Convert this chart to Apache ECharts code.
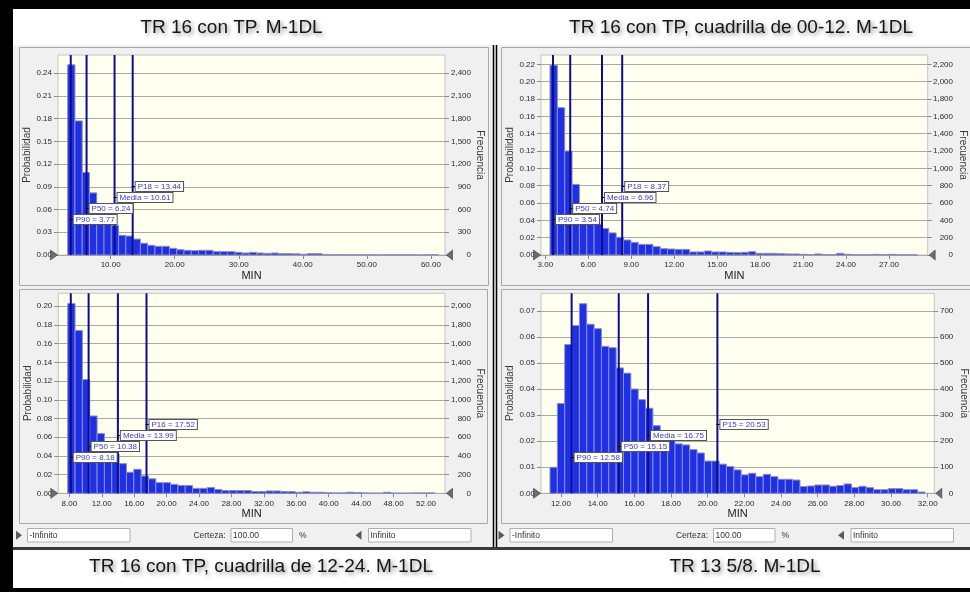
<!DOCTYPE html>
<html><head><meta charset="utf-8">
<script src="https://cdn.jsdelivr.net/npm/echarts@6/dist/echarts.min.js"></script>
<style>html,body{margin:0;padding:0;background:#000;} #c{width:970px;height:592px;}</style>
</head><body><div id="c"></div>
<script>
const FONT = '"Liberation Sans", Arial, sans-serif';
const trials = 10000;

const panelTitles = ['TR 16 con TP. M-1DL', 'TR 16 con TP, cuadrilla de 00-12. M-1DL',
  'TR 16 con TP, cuadrilla de 12-24. M-1DL', 'TR 13 5/8. M-1DL'];

// Panel A: TR 16 con TP. M-1DL
const aBinStart = 3.29, aBinWidth = 1.135;
const aProb = [0.251, 0.177, 0.109, 0.082, 0.060, 0.050, 0.039, 0.026, 0.025, 0.021,
  0.0155, 0.0128, 0.0115, 0.0115, 0.0088, 0.007, 0.0062, 0.0057, 0.0062, 0.0062,
  0.0044, 0.0044, 0.0044, 0.0035, 0.0026, 0.0035, 0.0026, 0.0022, 0.0026, 0.0018,
  0.0018, 0.0015, 0.0010, 0.0018, 0.0018, 0.0004, 0.0002, 0.0004, 0.0002, 0.0002,
  0.0002, 0.0003, 0, 0.0002, 0.0001, 0.0002, 0.0002, 0.0002, 0, 0.0002, 0.0003];
const aMarkerNames = ['P90', 'P50', 'Media', 'P18'];
const aMarkerValues = [3.77, 6.24, 10.61, 13.44];
const aXTicks = [10, 20, 30, 40, 50, 60];
const aProbTicks = [0, 0.03, 0.06, 0.09, 0.12, 0.15, 0.18, 0.21, 0.24];
const aFreqTicks = [0, 300, 600, 900, 1200, 1500, 1800, 2100, 2400];

// Panel B: cuadrilla 00-12
const bBinStart = 3.33, bBinWidth = 0.513;
const bProb = [0.219, 0.170, 0.120, 0.0815, 0.055, 0.044, 0.0356, 0.0306, 0.0255, 0.0204,
  0.0173, 0.0146, 0.0123, 0.0123, 0.0096, 0.0073, 0.0069, 0.0065, 0.0065, 0.0035,
  0.0035, 0.0046, 0.0035, 0.0035, 0.003, 0.0027, 0.0031, 0.0038, 0.0019, 0.0019,
  0.0019, 0.0015, 0.0012, 0.0012, 0.0008, 0.0004, 0.0012, 0.0004, 0.0004, 0.0019,
  0.0008, 0.0002, 0.0002, 0.0002, 0.0008, 0.0002, 0.0008, 0.0002, 0.0001, 0.0002];
const bMarkerNames = ['P90', 'P50', 'Media', 'P18'];
const bMarkerValues = [3.54, 4.74, 6.96, 8.37];
const bXTicks = [3, 6, 9, 12, 15, 18, 21, 24, 27];
const bProbTicks = [0, 0.02, 0.04, 0.06, 0.08, 0.10, 0.12, 0.14, 0.16, 0.18, 0.20, 0.22];
const bFreqTicks = [0, 200, 400, 600, 800, 1000, 1200, 1400, 1600, 1800, 2000, 2200];

// Panel C: cuadrilla 12-24
const cBinStart = 7.80, cBinWidth = 0.906;
const cProb = [0.203, 0.174, 0.1216, 0.0827, 0.064, 0.050, 0.042, 0.0317, 0.0225, 0.0257,
  0.0185, 0.0155, 0.0114, 0.0114, 0.0096, 0.0084, 0.0084, 0.0053, 0.0053, 0.0062,
  0.0041, 0.003, 0.003, 0.003, 0.003, 0.0019, 0.0019, 0.0025, 0.0025, 0.0018,
  0.0018, 0.0011, 0.0016, 0.0011, 0.0011, 0.0007, 0.0004, 0.0004, 0.0011, 0.0008,
  0.0004, 0.0002, 0.0002, 0.0011, 0.0002, 0.0002, 0.0002, 0.0004, 0.0004, 0.0004];
const cMarkerNames = ['P90', 'P50', 'Media', 'P16'];
const cMarkerValues = [8.18, 10.38, 13.99, 17.52];
const cXTicks = [8, 12, 16, 20, 24, 28, 32, 36, 40, 44, 48, 52];
const cProbTicks = [0, 0.02, 0.04, 0.06, 0.08, 0.10, 0.12, 0.14, 0.16, 0.18, 0.20];
const cFreqTicks = [0, 200, 400, 600, 800, 1000, 1200, 1400, 1600, 1800, 2000];

// Panel D: TR 13 5/8
const dBinStart = 11.40, dBinWidth = 0.401;
const dProb = [0.0100, 0.0345, 0.0572, 0.0645, 0.0729, 0.065, 0.0633, 0.0565, 0.056, 0.0482,
  0.0462, 0.0401, 0.036, 0.0327, 0.026, 0.0225, 0.0205, 0.019, 0.0186, 0.0168,
  0.0155, 0.0124, 0.0124, 0.0112, 0.0103, 0.009, 0.0071, 0.0077, 0.0064, 0.0073,
  0.0064, 0.0054, 0.0054, 0.0051, 0.0026, 0.0028, 0.0032, 0.0032, 0.0027, 0.003,
  0.0036, 0.0022, 0.0027, 0.0022, 0.0014, 0.0014, 0.0018, 0.0018, 0.0014, 0.0014, 0.0005];
const dMarkerNames = ['P90', 'P50', 'Media', 'P15'];
const dMarkerValues = [12.58, 15.15, 16.75, 20.53];
const dXTicks = [12, 14, 16, 18, 20, 22, 24, 26, 28, 30, 32];
const dProbTicks = [0, 0.01, 0.02, 0.03, 0.04, 0.05, 0.06, 0.07];
const dFreqTicks = [0, 100, 200, 300, 400, 500, 600, 700];

const panels = [
  {binStart: aBinStart, binWidth: aBinWidth, prob: aProb, mNames: aMarkerNames, mValues: aMarkerValues, xTicks: aXTicks, pTicks: aProbTicks, fTicks: aFreqTicks},
  {binStart: bBinStart, binWidth: bBinWidth, prob: bProb, mNames: bMarkerNames, mValues: bMarkerValues, xTicks: bXTicks, pTicks: bProbTicks, fTicks: bFreqTicks},
  {binStart: cBinStart, binWidth: cBinWidth, prob: cProb, mNames: cMarkerNames, mValues: cMarkerValues, xTicks: cXTicks, pTicks: cProbTicks, fTicks: cFreqTicks},
  {binStart: dBinStart, binWidth: dBinWidth, prob: dProb, mNames: dMarkerNames, mValues: dMarkerValues, xTicks: dXTicks, pTicks: dProbTicks, fTicks: dFreqTicks}
];

// Layout (positions / ranges only)
const layout = [
  {grid: {left: 58, top: 55, width: 387, height: 200}, xMin: 1.78, xMax: 62.2, yMax: 0.264, yInt: 0.03, rMargin: 26, lGap: 24, rGap: 30, title: [231.5, 27.5]},
  {grid: {left: 541, top: 55, width: 386.7, height: 200}, xMin: 2.70, xMax: 29.70, yMax: 0.2308, yInt: 0.02, rMargin: 25.3, lGap: 24, rGap: 30, title: [741, 27.5]},
  {grid: {left: 58.3, top: 293.3, width: 386.7, height: 200}, xMin: 6.64, xMax: 54.34, yMax: 0.2139, yInt: 0.02, rMargin: 26, lGap: 24, rGap: 30, title: [261, 567]},
  {grid: {left: 541, top: 293.3, width: 393.3, height: 200}, xMin: 10.91, xMax: 32.36, yMax: 0.0769, yInt: 0.01, rMargin: 19, lGap: 24, rGap: 24, title: [745, 567]}
];

const LABEL_COLOR = '#2a2a2a';
const grids = [], xAxes = [], yAxes = [], series = [];

panels.forEach((p, i) => {
  const L = layout[i];
  grids.push(Object.assign({show: true, backgroundColor: '#fffff0', borderColor: '#c4c4c4', borderWidth: 1}, L.grid));
  xAxes.push({
    gridIndex: i, type: 'value', min: L.xMin, max: L.xMax,
    axisLine: {show: false}, splitLine: {show: false},
    axisTick: {show: true, length: 4, lineStyle: {color: '#8a8a8a'}, customValues: p.xTicks},
    axisLabel: {customValues: p.xTicks, formatter: v => v.toFixed(2), fontSize: 8, fontFamily: FONT, color: LABEL_COLOR, margin: 6},
    name: 'MIN', nameLocation: 'middle', nameGap: 15,
    nameTextStyle: {fontSize: 11, fontFamily: FONT, color: '#222'}
  });
  yAxes.push({
    gridIndex: i, type: 'value', position: 'left', min: 0, max: L.yMax, interval: L.yInt,
    axisLine: {show: false},
    axisTick: {show: true, length: 4, lineStyle: {color: '#8a8a8a'}, customValues: p.pTicks},
    axisLabel: {customValues: p.pTicks, formatter: v => v.toFixed(2), fontSize: 8, fontFamily: FONT, color: LABEL_COLOR, margin: 6},
    splitLine: {show: true, lineStyle: {color: '#a9a9a9', width: 1.2}},
    name: 'Probabilidad', nameLocation: 'middle', nameGap: L.lGap,
    nameTextStyle: {fontSize: 10, fontFamily: FONT, color: '#3a3a3a'}
  });
  yAxes.push({
    gridIndex: i, type: 'value', position: 'right', min: 0, max: L.yMax * trials, interval: L.yInt * trials,
    axisLine: {show: false}, splitLine: {show: false},
    axisTick: {show: true, length: 4, lineStyle: {color: '#8a8a8a'}, customValues: p.fTicks},
    axisLabel: {customValues: p.fTicks, formatter: v => Math.round(v).toLocaleString('en-US'), align: 'right',
      fontSize: 8, fontFamily: FONT, color: LABEL_COLOR, margin: L.rMargin},
    name: 'Frecuencia', nameLocation: 'middle', nameGap: L.rGap, nameRotate: -90,
    nameTextStyle: {fontSize: 10, fontFamily: FONT, color: '#3a3a3a'}
  });

  series.push({
    type: 'custom', xAxisIndex: i, yAxisIndex: 2 * i, z: 2,
    data: p.prob.map((v, k) => [p.binStart + k * p.binWidth, p.binStart + (k + 1) * p.binWidth, v]),
    encode: {x: [0, 1], y: 2},
    renderItem: (params, api) => {
      const a = api.coord([api.value(0), api.value(2)]);
      const b = api.coord([api.value(1), 0]);
      return {type: 'rect', shape: {x: a[0], y: a[1], width: b[0] - a[0], height: b[1] - a[1]},
        style: {fill: '#1e2fe8', stroke: '#8e8eb8', lineWidth: 1}};
    }
  });

  series.push({
    type: 'custom', xAxisIndex: i, yAxisIndex: 2 * i, z: 4,
    data: p.mValues.map((v, k) => [v, 0, k]),
    encode: {x: 0, y: 1},
    renderItem: (params, api) => {
      const cs = params.coordSys;
      const x = api.coord([api.value(0), 0])[0];
      const k = api.value(2);
      const yb = cs.y + cs.height;
      const ly = Math.round(yb - 36.5 - 11 * k) + 0.5;
      const txt = p.mNames[params.dataIndex] + ' = ' + p.mValues[params.dataIndex].toFixed(2);
      const children = [
        {type: 'line', z2: 1, shape: {x1: x, y1: cs.y, x2: x, y2: yb}, style: {stroke: '#0c0c8e', lineWidth: 2}},
        {type: 'line', z2: 20, shape: {x1: x - 1, y1: ly, x2: x + 3, y2: ly}, style: {stroke: '#000', lineWidth: 1}},
        {type: 'text', z2: 30, x: x + 3, y: ly, style: {text: txt, fill: '#3b3bc4', font: '8px ' + FONT,
          align: 'left', verticalAlign: 'middle', backgroundColor: '#ffffff', borderColor: '#555', borderWidth: 1, padding: [1, 2, 0, 2]}}
      ];
      if (params.dataIndex === 0) {
        const xl = cs.x, xr = cs.x + cs.width;
        children.push({type: 'polygon', z2: 40, shape: {points: [[xl - 7.5, yb - 5], [xl - 7.5, yb + 5], [xl - 0.5, yb]]},
          style: {fill: '#6c6c6c', stroke: '#3c3c3c', lineWidth: 0.6}});
        children.push({type: 'polygon', z2: 40, shape: {points: [[xr + 7.5, yb - 5], [xr + 7.5, yb + 5], [xr + 1.5, yb]]},
          style: {fill: '#6c6c6c', stroke: '#3c3c3c', lineWidth: 0.6}});
      }
      return {type: 'group', children};
    }
  });
});

// Decorative frame / panels / titles / controls
const graphics = [];
const bg = (x, y, w, h, fill, stroke, z) => graphics.push({type: 'rect', z: z == null ? -10 : z, silent: true,
  shape: {x, y, width: w, height: h}, style: {fill, stroke: stroke || null, lineWidth: 1}});
bg(13, 9, 957, 36, '#ffffff');
bg(13, 45, 957, 502, '#f0f0f0');
bg(13, 547, 957, 3, '#3a3a3a');
bg(13, 550, 957, 38, '#ffffff');
bg(19.5, 47.5, 469, 238, 'rgba(0,0,0,0)', '#a8a8a8', -9);
bg(19.5, 289.5, 468, 234, 'rgba(0,0,0,0)', '#a8a8a8', -9);
bg(501.5, 47.5, 480, 238, 'rgba(0,0,0,0)', '#a8a8a8', -9);
bg(501.5, 289.5, 480, 234, 'rgba(0,0,0,0)', '#a8a8a8', -9);
graphics.push({type: 'line', z: -8, silent: true, shape: {x1: 493.5, y1: 45, x2: 493.5, y2: 547}, style: {stroke: '#000', lineWidth: 1.5}});
graphics.push({type: 'line', z: -8, silent: true, shape: {x1: 496.5, y1: 45, x2: 496.5, y2: 547}, style: {stroke: '#000', lineWidth: 1.5}});

panelTitles.forEach((t, i) => {
  graphics.push({type: 'text', z: 10, silent: true, x: layout[i].title[0], y: layout[i].title[1],
    style: {text: t, font: '19px ' + FONT, fill: '#161616', align: 'center', verticalAlign: 'middle',
      shadowColor: 'rgba(0,0,0,0.45)', shadowBlur: 4, shadowOffsetX: 2, shadowOffsetY: 2,
      textShadowColor: 'rgba(0,0,0,0.45)', textShadowBlur: 4, textShadowOffsetX: 2, textShadowOffsetY: 2}});
});

const controlTexts = ['-Infinito', 'Certeza:', '100.00', '%', 'Infinito'];
[0, 482.5].forEach(ox => {
  const yc = 535.3;
  graphics.push({type: 'polygon', z: 10, silent: true, shape: {points: [[ox + 16, yc - 4.5], [ox + 16, yc + 4.5], [ox + 22, yc]]}, style: {fill: '#5a5a5a'}});
  graphics.push({type: 'polygon', z: 10, silent: true, shape: {points: [[ox + 361.5, yc - 4.5], [ox + 361.5, yc + 4.5], [ox + 355.5, yc]]}, style: {fill: '#5a5a5a'}});
  [[27.5, 102.5], [231, 61.5], [368.5, 102.5]].forEach(b => {
    graphics.push({type: 'rect', z: 10, silent: true, shape: {x: ox + b[0], y: 528.5, width: b[1], height: 13.5}, style: {fill: '#fff', stroke: '#b0b0b0', lineWidth: 1}});
  });
  const st = (x, t, align) => graphics.push({type: 'text', z: 11, silent: true, x: ox + x, y: yc,
    style: {text: t, font: '8.5px ' + FONT, fill: '#333', align: align || 'left', verticalAlign: 'middle'}});
  st(29.5, controlTexts[0]);
  st(225.5, controlTexts[1], 'right');
  st(233, controlTexts[2]);
  st(299, controlTexts[3]);
  st(370.5, controlTexts[4]);
});

const chart = echarts.init(document.getElementById('c'), null, {renderer: 'canvas'});
chart.setOption({
  backgroundColor: '#000',
  animation: false,
  grid: grids, xAxis: xAxes, yAxis: yAxes, series,
  graphic: {elements: graphics}
});
</script></body></html>
